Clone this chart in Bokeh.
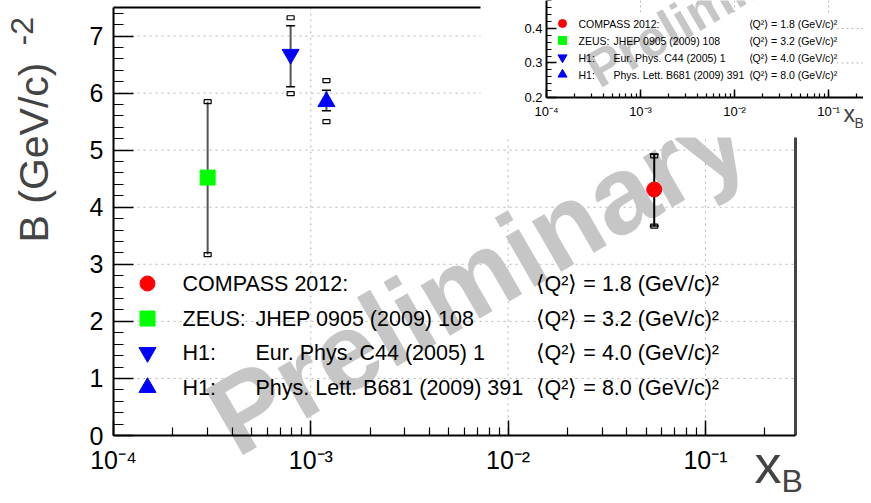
import math
from bokeh.plotting import figure
from bokeh.models import (Label, SingleIntervalTicker, LogTicker, CustomJSTickFormatter,
                          ColumnDataSource, Range1d, LogScale, LinearScale, LogAxis, LinearAxis)
from bokeh.core.properties import value
from bokeh.embed import file_html
from bokeh.resources import INLINE

# ---------------- data ----------------
exp_names = ["COMPASS 2012", "ZEUS", "H1 (C44)", "H1 (B681)"]
x_b = [0.055, 3.0e-4, 7.9e-4, 1.2e-3]
b_val = [4.31, 4.52, 6.68, 5.85]
stat_lo = [3.67, 3.17, 6.11, 5.69]
stat_hi = [4.93, 5.85, 7.18, 6.05]
sys_lo = [3.67, 3.17, 5.99, 5.50]
sys_hi = [4.90, 5.85, 7.32, 6.22]
has_cap = [True, False, True, True]
markers = ["circle", "square", "inverted_triangle", "triangle"]
colors = ["#ff0000", "#00ff00", "#0000ff", "#0000ff"]
bar_colors = ["#000000", "#555555", "#555555", "#555555"]
msizes = [15, 15, 17, 17]

leg_col1 = ["COMPASS 2012:", "ZEUS:", "H1:", "H1:"]
leg_col2 = ["", "JHEP 0905 (2009) 108", "Eur. Phys. C44 (2005) 1", "Phys. Lett. B681 (2009) 391"]
leg_q2 = ["1.8", "3.2", "4.0", "8.0"]

x_tick_values = [1e-4, 1e-3, 1e-2, 1e-1]
x_tick_labels = ["10\u207b\u2074", "10\u207b\u00b3", "10\u207b\u00b2", "10\u207b\u00b9"]
y_grid_values = [1, 2, 3, 4, 5, 6, 7]
ins_y_grid_values = [0.3, 0.4]
XMIN, XMAX = 1e-4, 0.286
YMIN, YMAX = 0.0, 7.5
INS_YMIN, INS_YMAX = 0.2, 0.481

FONT = "Liberation Sans"
WM_COLOR = "#c6c6c6"
GRID_COLOR = "#b4b4b4"

# ---------------- geometry (page pixels) ----------------
W, H = 863, 495
FL, FR, FT, FB = 113, 795, 7, 435           # main plot frame
IFL, IFR, IFT, IFB = 546, 871, 0, 97        # inset plot frame
INS_BOX = (480, 0, 871, 137)                # inset pad (white)
LDEC = math.log10(XMAX / XMIN)
PXD = (FR - FL) / LDEC
PYU = (FB - FT) / (YMAX - YMIN)
IPXD = (IFR - IFL) / LDEC
IPYU = (IFB - IFT) / (INS_YMAX - INS_YMIN)


def X(px):
    return 10 ** (math.log10(XMIN) + (px - FL) / PXD)


def Y(py):
    return YMIN + (FB - py) / PYU


def XI(px):
    return 10 ** (math.log10(XMIN) + (px - IFL) / IPXD)


def YI(py):
    return INS_YMIN + (IFB - py) / IPYU


fmt = CustomJSTickFormatter(args=dict(vals=x_tick_values, labs=x_tick_labels), code="""
let best = -1, bd = 1e9;
for (let i = 0; i < vals.length; i++) {
  const d = Math.abs(Math.log10(tick) - Math.log10(vals[i]));
  if (d < bd) { bd = d; best = i; }
}
return bd < 1e-6 ? labs[best] : "";
""")

p = figure(width=W, height=H, x_axis_type="log", x_range=Range1d(X(0), X(W)), y_range=Range1d(Y(H), Y(0)),
           min_border=0, output_backend="svg", toolbar_location=None,
           x_axis_location=None, y_axis_location=None)
p.title.visible = False
p.outline_line_color = None
p.background_fill_color = "white"
p.border_fill_color = "white"
p.xgrid.visible = False
p.ygrid.visible = False
p.extra_x_ranges = {"ins": Range1d(XI(0), XI(W))}
p.extra_x_scales = {"ins": LogScale()}
p.extra_y_ranges = {"ins": Range1d(YI(H), YI(0))}
p.extra_y_scales = {"ins": LinearScale()}


def style_axis(ax, size, tick_major, tick_minor, standoff):
    ax.axis_line_width = 2
    ax.axis_line_color = "black"
    ax.major_tick_out = 0
    ax.minor_tick_out = 0
    ax.major_tick_in = tick_major
    ax.minor_tick_in = tick_minor
    ax.major_tick_line_color = "black"
    ax.minor_tick_line_color = "black"
    ax.major_tick_line_width = 1.5
    ax.minor_tick_line_width = 1.2
    ax.major_label_text_font = FONT
    ax.major_label_text_font_size = size
    ax.major_label_text_color = "black"
    ax.major_label_standoff = standoff


# ---------------- main plot ----------------
xg = [v for v in x_tick_values if XMIN < v < XMAX]
p.segment(x0=xg, y0=[YMIN] * len(xg), x1=xg, y1=[YMAX] * len(xg), line_color=GRID_COLOR,
          line_dash="2 4", line_width=1)
p.segment(x0=[XMIN] * len(y_grid_values), y0=y_grid_values, x1=[XMAX] * len(y_grid_values),
          y1=y_grid_values, line_color=GRID_COLOR, line_dash="2 4", line_width=1)

# watermark
p.text(x=[X(217)], y=[Y(425)], text=["Preliminary"], angle=math.pi / 6,
       text_font=value("Liberation Sans"), text_font_style="bold", text_font_size="110px",
       text_color=WM_COLOR, text_align="left", text_baseline="alphabetic")

# frame (top and right)
p.segment(x0=[XMIN], y0=[YMAX], x1=[XMAX], y1=[YMAX], line_color="black", line_width=2)
p.segment(x0=[XMAX], y0=[YMIN], x1=[XMAX], y1=[YMAX], line_color="#444444", line_width=3)

src = ColumnDataSource(dict(x=x_b, y=b_val, slo=stat_lo, shi=stat_hi, ylo=sys_lo, yhi=sys_hi,
                            marker=markers, color=colors, bc=bar_colors, size=msizes))
p.segment(x0="x", y0="slo", x1="x", y1="shi", line_color="bc", line_width=2, source=src)
cap_x = [x for x, c in zip(x_b, has_cap) if c]
cap_hi = [v for v, c in zip(stat_hi, has_cap) if c]
cap_lo = [v for v, c in zip(stat_lo, has_cap) if c]
p.scatter(x=cap_x + cap_x, y=cap_hi + cap_lo, marker="dash", size=9, line_color="black", line_width=1.5)
p.rect(x=x_b + x_b, y=sys_lo + sys_hi, width=7, height=4, width_units="screen", height_units="screen",
       fill_color=None, line_color="black", line_width=1.2)
p.scatter(x="x", y="y", marker="marker", size="size", fill_color="color", line_color="color", source=src)

# legend (main)
leg_rows_py = [283, 318, 352, 387]
p.scatter(x=[X(147)] * 4, y=[Y(r) for r in leg_rows_py], marker=markers, size=msizes,
          fill_color=colors, line_color=colors)
for i, r in enumerate(leg_rows_py):
    for px, txt in ((182, leg_col1[i]), (255, leg_col2[i]),
                    (535, "\u27e8Q\u00b2\u27e9 = %s (GeV/c)\u00b2" % leg_q2[i])):
        if txt:
            p.add_layout(Label(x=X(px), y=Y(r), text=txt, text_font=FONT, text_font_size="21.5px",
                               text_baseline="middle", text_align="left", text_color="black"))

# main axes, drawn at the frame edges
xa = LogAxis(fixed_location=YMIN, bounds=(XMIN, XMAX), ticker=LogTicker(num_minor_ticks=10), formatter=fmt)
style_axis(xa, "25px", 15, 8, 10)
p.add_layout(xa, "below")
ya = LinearAxis(fixed_location=XMIN, bounds=(YMIN, YMAX), ticker=SingleIntervalTicker(interval=1, num_minor_ticks=5))
style_axis(ya, "25px", 20, 10, 10)
p.add_layout(ya, "left")

# axis titles
p.add_layout(Label(x=X(33), y=Y(242), text="B (GeV/c)", angle=math.pi / 2, text_font=FONT,
                   text_font_size="41px", text_align="left", text_baseline="middle"))
p.add_layout(Label(x=X(21), y=Y(45), text="-2", angle=math.pi / 2, text_font=FONT,
                   text_font_size="32px", text_align="left", text_baseline="middle"))
p.add_layout(Label(x=X(754), y=Y(463), text="x", text_font=FONT, text_font_size="54px",
                   text_align="left", text_baseline="middle"))
p.add_layout(Label(x=X(781), y=Y(480), text="B", text_font=FONT, text_font_size="32px",
                   text_align="left", text_baseline="middle"))

# ---------------- inset ----------------
p.quad(left=[X(INS_BOX[0])], right=[X(INS_BOX[2])], top=[Y(INS_BOX[1] - 5)], bottom=[Y(INS_BOX[3])],
       fill_color="white", line_color=None)
ixg = [v for v in x_tick_values if XMIN < v < XMAX]
p.segment(x0=ixg, y0=[INS_YMIN] * len(ixg), x1=ixg, y1=[INS_YMAX] * len(ixg), line_color=GRID_COLOR,
          line_dash="2 3", line_width=1, x_range_name="ins", y_range_name="ins")
p.segment(x0=[XMIN] * len(ins_y_grid_values), y0=ins_y_grid_values, x1=[XMAX] * len(ins_y_grid_values),
          y1=ins_y_grid_values, line_color=GRID_COLOR, line_dash="2 3", line_width=1,
          x_range_name="ins", y_range_name="ins")
p.quad(left=[X(552)], right=[X(836)], top=[Y(12)], bottom=[Y(IFB - 1)], fill_color="white", line_color=None)
p.text(x=[X(590)], y=[Y(73)], text=["Preliminary"], angle=math.pi / 6,
       text_font=value("Liberation Sans"), text_font_style="bold", text_font_size="52px",
       text_color=WM_COLOR, text_align="left", text_baseline="alphabetic")
ins_rows_py = [23, 40, 57, 74]
p.scatter(x=[X(562)] * 4, y=[Y(r) for r in ins_rows_py], marker=markers, size=[8, 8, 9, 9],
          fill_color=colors, line_color=colors)
for i, r in enumerate(ins_rows_py):
    for px, txt in ((578, leg_col1[i]), (613, leg_col2[i]),
                    (748, "\u27e8Q\u00b2\u27e9 = %s (GeV/c)\u00b2" % leg_q2[i])):
        if txt:
            p.add_layout(Label(x=X(px), y=Y(r), text=txt, text_font=FONT, text_font_size="10.5px",
                               text_baseline="middle", text_align="left", text_color="black"))

ixa = LogAxis(x_range_name="ins", y_range_name="ins", fixed_location=INS_YMIN, bounds=(XMIN, XMAX),
              ticker=LogTicker(num_minor_ticks=10), formatter=fmt)
style_axis(ixa, "13px", 8, 4, 6)
p.add_layout(ixa, "below")
iya = LinearAxis(x_range_name="ins", y_range_name="ins", fixed_location=XMIN, bounds=(INS_YMIN, INS_YMAX),
                 ticker=SingleIntervalTicker(interval=0.1, num_minor_ticks=5))
style_axis(iya, "13px", 10, 5, 4)
p.add_layout(iya, "left")

p.add_layout(Label(x=X(843), y=Y(113), text="x", text_font=FONT, text_font_size="23px",
                   text_align="left", text_baseline="middle"))
p.add_layout(Label(x=X(854), y=Y(122), text="B", text_font=FONT, text_font_size="14px",
                   text_align="left", text_baseline="middle"))

open("out.html", "w").write(file_html(p, INLINE))
